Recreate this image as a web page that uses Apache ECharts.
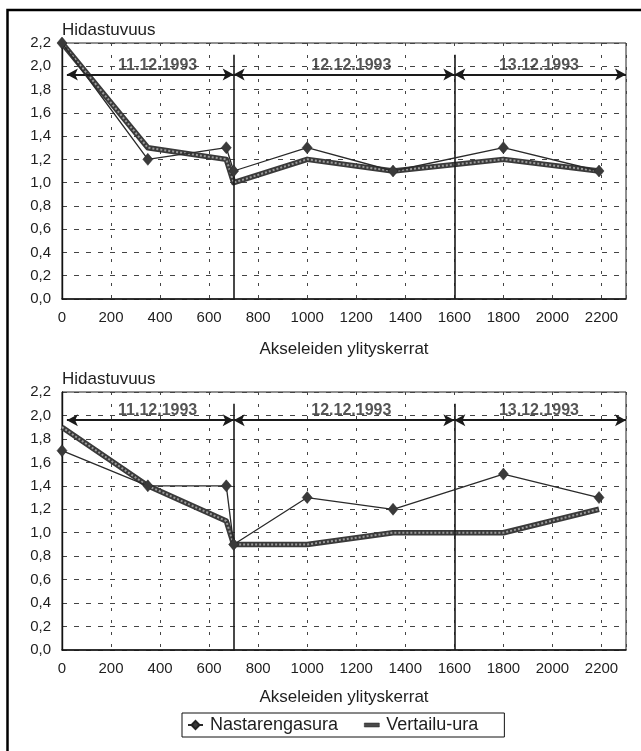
<!DOCTYPE html>
<html>
<head>
<meta charset="utf-8">
<script src="https://cdn.jsdelivr.net/npm/echarts@6/dist/echarts.min.js"></script>
<style>
  html, body { margin: 0; padding: 0; background: #fff; }
  #chart { width: 641px; height: 751px; }
</style>
</head>
<body>
<div id="chart"></div>
<script>
// Axle crossings at which deceleration was measured
const crossings = [0, 350, 670, 700, 1000, 1350, 1800, 2190];

// Upper panel
const upperStud = [2.2, 1.2, 1.3, 1.1, 1.3, 1.1, 1.3, 1.1];
const upperRef  = [2.2, 1.3, 1.2, 1.0, 1.2, 1.1, 1.2, 1.1];

// Lower panel
const lowerStud = [1.7, 1.4, 1.4, 0.9, 1.3, 1.2, 1.5, 1.3];
const lowerRef  = [1.9, 1.4, 1.1, 0.9, 0.9, 1.0, 1.0, 1.2];

// Measurement days
const dayNames  = ['11.12.1993', '12.12.1993', '13.12.1993'];
const dayStart  = [20, 700, 1600];
const dayEnd    = [700, 1600, 2300];
const dayLabelX = [390, 1180, 1945];
const dayBreaks = [700, 1600];

// Axis ticks
const xMin = 0, xMax = 2300, xStep = 200;
const yMin = 0, yMax = 2.2, yStep = 0.2;

const seriesNames = ['Nastarengasura', 'Vertailu-ura'];
const yName = 'Hidastuvuus';
const xName = 'Akseleiden ylityskerrat';

const FONT = '"Liberation Sans", Arial, sans-serif';
const INK = '#1e1e1e';

const pairs = (xs, ys) => xs.map((x, i) => [x, ys[i]]);

const panels = [
  { stud: upperStud, ref: upperRef, top: 43, height: 256, arrowY: 1.93, labelY: 2.01, nameGap: 42 },
  { stud: lowerStud, ref: lowerRef, top: 392, height: 258, arrowY: 1.96, labelY: 2.04, nameGap: 39 }
];

const grids = [], xAxes = [], yAxes = [], series = [];

panels.forEach((p, gi) => {
  grids.push({
    left: 62, width: 564, top: p.top, height: p.height,
    show: true, borderColor: '#222', borderWidth: 1, backgroundColor: 'transparent'
  });
  xAxes.push({
    type: 'value', gridIndex: gi, min: xMin, max: xMax, interval: xStep,
    name: xName, nameLocation: 'middle', nameGap: p.nameGap,
    nameTextStyle: { fontFamily: FONT, fontSize: 17, color: INK },
    axisLine: { show: true, onZero: false, lineStyle: { color: '#111', width: 1.6 } },
    axisTick: { show: false },
    axisLabel: {
      showMaxLabel: false, margin: 11, fontFamily: FONT, fontSize: 15, color: INK,
      formatter: v => String(Math.round(v))
    },
    splitLine: { show: true, lineStyle: { color: '#444', width: 1, type: [3, 9] } }
  });
  yAxes.push({
    type: 'value', gridIndex: gi, min: yMin, max: yMax, interval: yStep,
    name: yName, nameLocation: 'end', nameGap: 4,
    nameTextStyle: { fontFamily: FONT, fontSize: 17, color: INK, align: 'left', verticalAlign: 'bottom' },
    axisLine: { show: true, lineStyle: { color: '#111', width: 1.4 } },
    axisTick: { show: false },
    axisLabel: {
      margin: 11, fontFamily: FONT, fontSize: 15, color: INK,
      formatter: v => v.toFixed(1).replace('.', ',')
    },
    splitLine: { show: true, lineStyle: { color: '#444', width: 1, type: [5, 7] } }
  });

  // day separators
  series.push({
    type: 'line', xAxisIndex: gi, yAxisIndex: gi, data: [], silent: true,
    markLine: {
      silent: true, animation: false, symbol: ['none', 'none'],
      label: { show: false },
      lineStyle: { color: '#1a1a1a', width: 1.6, type: 'solid' },
      data: dayBreaks.map(x => [{ coord: [x, 0] }, { coord: [x, 2.1] }])
    }
  });
  // day span arrows
  series.push({
    type: 'line', xAxisIndex: gi, yAxisIndex: gi, data: [], silent: true,
    markLine: {
      silent: true, animation: false, symbol: ['arrow', 'arrow'], symbolSize: [9, 11],
      label: { show: false },
      lineStyle: { color: '#1a1a1a', width: 2, type: 'solid' },
      data: dayStart.map((s, i) => [{ coord: [s, p.arrowY] }, { coord: [dayEnd[i], p.arrowY] }])
    }
  });
  // day labels
  series.push({
    type: 'scatter', xAxisIndex: gi, yAxisIndex: gi, silent: true, symbolSize: 0,
    data: dayNames.map((d, i) => ({ value: [dayLabelX[i], p.labelY], name: d })),
    label: {
      show: true, position: 'inside', formatter: q => q.name,
      fontFamily: FONT, fontSize: 16, fontWeight: 'bold', color: '#2a2a2a'
    },
    z: 5
  });

  // reference track: dark casing plus lighter core
  series.push({
    name: seriesNames[1], type: 'line', xAxisIndex: gi, yAxisIndex: gi,
    data: pairs(crossings, p.ref), symbol: 'none',
    lineStyle: { color: '#3a3a3a', width: 5.5, join: 'round' },
    itemStyle: { color: '#3a3a3a' },
    z: 3, animation: false
  });
  series.push({
    name: 'Vertailu-ura (ydin)', type: 'line', xAxisIndex: gi, yAxisIndex: gi,
    data: pairs(crossings, p.ref), symbol: 'none', silent: true,
    lineStyle: { color: '#9b9b9b', width: 2, type: [2, 2], join: 'round' },
    z: 4, animation: false
  });
  // studded-tyre track
  series.push({
    name: seriesNames[0], type: 'line', xAxisIndex: gi, yAxisIndex: gi,
    data: pairs(crossings, p.stud), symbol: 'diamond', symbolSize: [10, 12],
    lineStyle: { color: '#2a2a2a', width: 1.3 },
    itemStyle: { color: '#3a3a3a', borderColor: '#222', borderWidth: 0.5 },
    z: 6, animation: false
  });
});

const chart = echarts.init(document.getElementById('chart'), null, { renderer: 'canvas' });
chart.setOption({
  backgroundColor: '#fff',
  animation: false,
  textStyle: { fontFamily: FONT },
  grid: grids,
  xAxis: xAxes,
  yAxis: yAxes,
  legend: {
    data: [
      { name: seriesNames[0] },
      {
        name: seriesNames[1],
        icon: 'path://M0,0 L30,0 L30,8 L0,8 Z',
        itemStyle: { color: '#4a4a4a', borderColor: '#222', borderWidth: 0.5 }
      }
    ],
    left: 182, top: 713,
    padding: [3, 26, 3, 5],
    borderColor: '#111', borderWidth: 1,
    itemWidth: 15, itemHeight: 10, itemGap: 26,
    textStyle: { fontFamily: FONT, fontSize: 18, color: INK, padding: [0, 0, 0, 2] },
    selectedMode: false
  },
  graphic: [{
    type: 'rect', silent: true, z: 100,
    shape: { x: 7.5, y: 10, width: 700, height: 800 },
    style: { fill: 'none', stroke: '#000', lineWidth: 2.5 }
  }],
  series: series
});
</script>
</body>
</html>
